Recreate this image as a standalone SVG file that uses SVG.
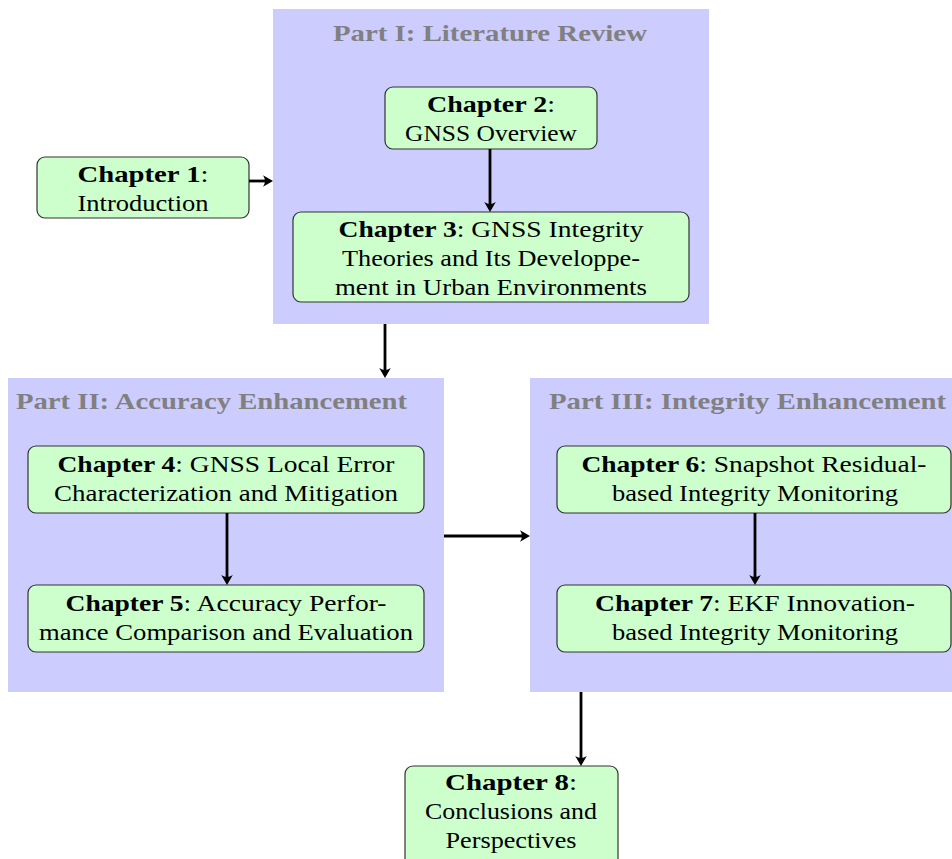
<svg xmlns="http://www.w3.org/2000/svg" width="952" height="859" viewBox="0 0 952 859">
<style>
.part{fill:#ccccff;stroke:none}
.ptitle{font-family:"Liberation Serif","DejaVu Serif",serif;font-weight:bold;font-size:23px;fill:#808080}
.ch{fill:#ccffcc;stroke:#333333;stroke-width:1.2}
.t{font-family:"Liberation Serif","DejaVu Serif",serif;font-size:24px;fill:#000;text-anchor:middle}
.b{font-weight:bold}
.conn{stroke:#000;stroke-width:2.8;fill:none;marker-end:url(#arr)}
</style>
<defs>
<marker id="arr" viewBox="-11 -7 15 14" refX="-3" refY="0" markerWidth="15" markerHeight="14" markerUnits="userSpaceOnUse" orient="auto">
<path d="M0,0 L-10,-5.8 Q-6,0 -10,5.8 Z" fill="#000"/>
</marker>
</defs>
<rect width="952" height="859" fill="#fff"/>
<g id="part1">
<rect class="part" x="273" y="9" width="436" height="315"/>
<text class="ptitle" x="490" y="41" text-anchor="middle" textLength="314" lengthAdjust="spacingAndGlyphs">Part I: Literature Review</text>
</g>
<g id="part2">
<rect class="part" x="8" y="378" width="436" height="314"/>
<text class="ptitle" x="16" y="409" textLength="391" lengthAdjust="spacingAndGlyphs">Part II: Accuracy Enhancement</text>
</g>
<g id="part3">
<rect class="part" x="530" y="378" width="430" height="314"/>
<text class="ptitle" x="549" y="409" textLength="397" lengthAdjust="spacingAndGlyphs">Part III: Integrity Enhancement</text>
</g>
<g id="ch1">
<rect class="ch" x="37" y="157" width="212" height="61" rx="8"/>
<text class="t" x="143" y="182" textLength="131" lengthAdjust="spacingAndGlyphs"><tspan class="b">Chapter 1</tspan>:</text>
<text class="t" x="143" y="211" textLength="131" lengthAdjust="spacingAndGlyphs">Introduction</text>
</g>
<g id="ch2">
<rect class="ch" x="385" y="87" width="212" height="62" rx="8"/>
<text class="t" x="491" y="112" textLength="128" lengthAdjust="spacingAndGlyphs"><tspan class="b">Chapter 2</tspan>:</text>
<text class="t" x="491" y="141" textLength="172" lengthAdjust="spacingAndGlyphs">GNSS Overview</text>
</g>
<g id="ch3">
<rect class="ch" x="293" y="212" width="396" height="90" rx="8"/>
<text class="t" x="491" y="237" textLength="305" lengthAdjust="spacingAndGlyphs"><tspan class="b">Chapter 3</tspan>: GNSS Integrity</text>
<text class="t" x="491" y="266" textLength="298" lengthAdjust="spacingAndGlyphs">Theories and Its Developpe-</text>
<text class="t" x="491" y="295" textLength="312" lengthAdjust="spacingAndGlyphs">ment in Urban Environments</text>
</g>
<g id="ch4">
<rect class="ch" x="28" y="446" width="396" height="67" rx="8"/>
<text class="t" x="226" y="472" textLength="337" lengthAdjust="spacingAndGlyphs"><tspan class="b">Chapter 4</tspan>: GNSS Local Error</text>
<text class="t" x="226" y="501" textLength="344" lengthAdjust="spacingAndGlyphs">Characterization and Mitigation</text>
</g>
<g id="ch5">
<rect class="ch" x="28" y="585" width="396" height="67" rx="8"/>
<text class="t" x="226" y="611" textLength="321" lengthAdjust="spacingAndGlyphs"><tspan class="b">Chapter 5</tspan>: Accuracy Perfor-</text>
<text class="t" x="226" y="640" textLength="374" lengthAdjust="spacingAndGlyphs">mance Comparison and Evaluation</text>
</g>
<g id="ch6">
<rect class="ch" x="557" y="446" width="394" height="67" rx="8"/>
<text class="t" x="754" y="472" textLength="345" lengthAdjust="spacingAndGlyphs"><tspan class="b">Chapter 6</tspan>: Snapshot Residual-</text>
<text class="t" x="755" y="501" textLength="286" lengthAdjust="spacingAndGlyphs">based Integrity Monitoring</text>
</g>
<g id="ch7">
<rect class="ch" x="557" y="585" width="394" height="67" rx="8"/>
<text class="t" x="755" y="611" textLength="320" lengthAdjust="spacingAndGlyphs"><tspan class="b">Chapter 7</tspan>: EKF Innovation-</text>
<text class="t" x="755" y="640" textLength="286" lengthAdjust="spacingAndGlyphs">based Integrity Monitoring</text>
</g>
<g id="ch8">
<rect class="ch" x="405" y="766" width="213" height="100" rx="8"/>
<text class="t" x="511" y="790" textLength="132" lengthAdjust="spacingAndGlyphs"><tspan class="b">Chapter 8</tspan>:</text>
<text class="t" x="511" y="819" textLength="172" lengthAdjust="spacingAndGlyphs">Conclusions and</text>
<text class="t" x="511" y="848" textLength="131" lengthAdjust="spacingAndGlyphs">Perspectives</text>
</g>
<g id="connectors">
<path class="conn" d="M249,181 L270,181"/>
<path class="conn" d="M490,149 L490,209"/>
<path class="conn" d="M385,324 L385,375"/>
<path class="conn" d="M227,513 L227,582"/>
<path class="conn" d="M444,536 L527,536"/>
<path class="conn" d="M755,513 L755,582"/>
<path class="conn" d="M581,692 L581,763"/>
</g>
</svg>
